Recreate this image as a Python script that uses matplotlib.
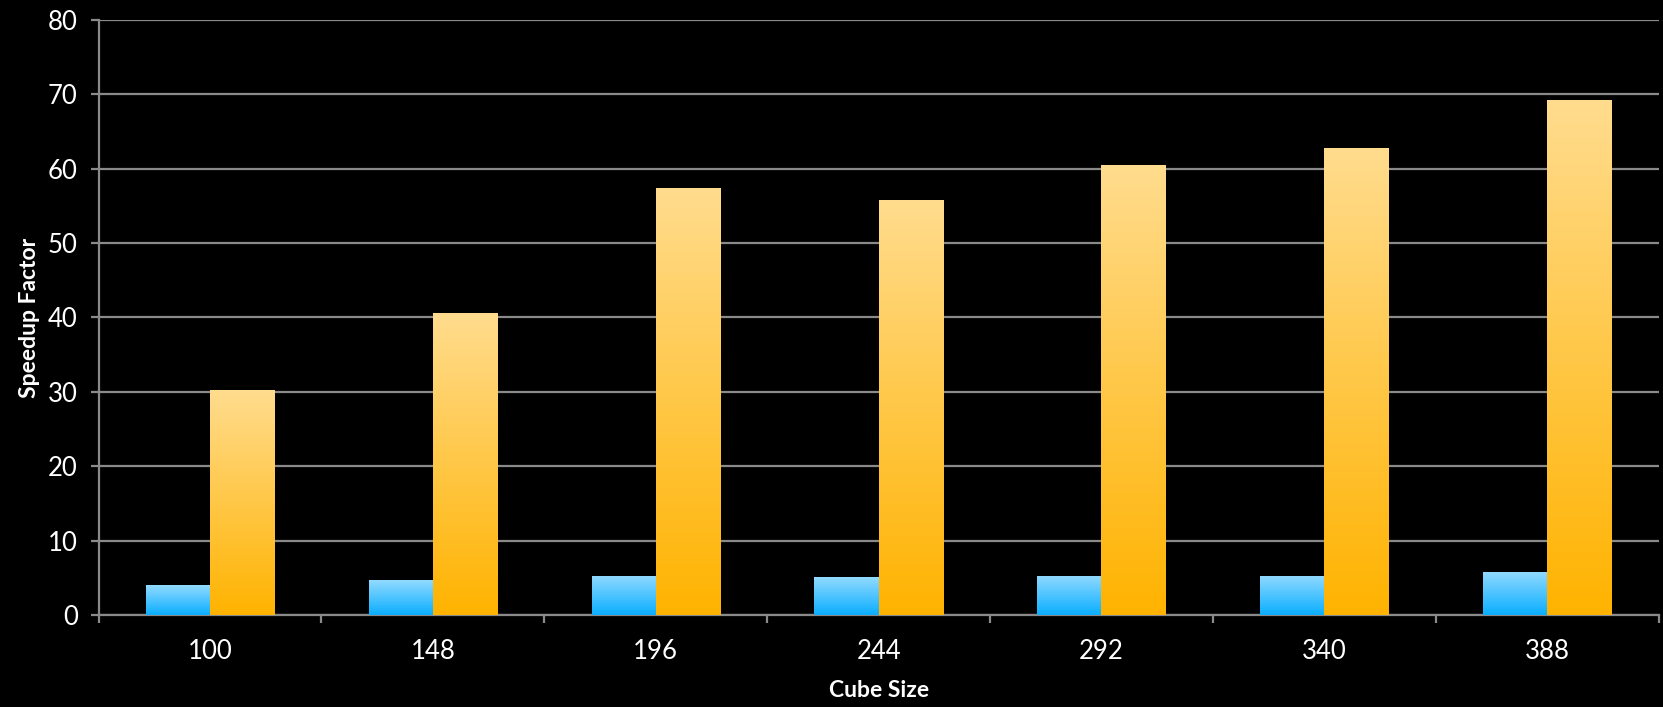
import numpy as np
import matplotlib.pyplot as plt
from matplotlib.colors import LinearSegmentedColormap

# data
cube_sizes = ["100", "148", "196", "244", "292", "340", "388"]
blue_values = [4.0, 4.7, 5.3, 5.1, 5.3, 5.3, 5.8]
orange_values = [30.2, 40.6, 57.4, 55.8, 60.5, 62.8, 69.2]

plt.rcParams["font.family"] = ["Lato", "DejaVu Sans"]

blue_cmap = LinearSegmentedColormap.from_list("blue", ["#0aaeff", "#92daff"])
orange_cmap = LinearSegmentedColormap.from_list("orange", ["#ffb300", "#ffdc8e"])

fig = plt.figure(figsize=(16.63, 7.07), dpi=100, facecolor="black")
ax = fig.add_axes([0.0593, 0.130, 0.938, 0.842])
ax.set_facecolor("black")

x = np.arange(len(cube_sizes))
width = 0.288

blue_bars = ax.bar(x - width / 2, blue_values, width, color="#0aaeff", zorder=3)
orange_bars = ax.bar(x + width / 2, orange_values, width, color="#ffb300", zorder=3)

# vertical gradient inside each bar
grad = np.linspace(0, 1, 256).reshape(-1, 1)
for bars, cmap in [(blue_bars, blue_cmap), (orange_bars, orange_cmap)]:
    for bar in bars:
        x0, h, w = bar.get_x(), bar.get_height(), bar.get_width()
        im = ax.imshow(grad, cmap=cmap, origin="lower", aspect="auto",
                       extent=(x0, x0 + w, 0, h), zorder=4)
        im.set_clip_path(bar)

ax.set_xlim(-0.5, len(cube_sizes) - 0.5)
ax.set_ylim(0, 80)
ax.set_yticks(range(0, 81, 10))
ax.set_xticks(x)
ax.set_xticklabels(cube_sizes)
ax.set_xticks(np.arange(-0.5, len(cube_sizes), 1), minor=True)

ax.yaxis.grid(True, color="#8a8a8a", linewidth=1.6, zorder=1)
ax.set_axisbelow(True)

for side in ["top", "right"]:
    ax.spines[side].set_visible(False)
for side in ["left", "bottom"]:
    ax.spines[side].set_color("#8a8a8a")
    ax.spines[side].set_linewidth(1.6)

ax.tick_params(axis="y", colors="#8a8a8a", labelcolor="white", labelsize=18.5,
               length=6, width=1.6, pad=9)
ax.tick_params(axis="x", which="major", length=0, labelcolor="white",
               labelsize=18.5, pad=17)
ax.tick_params(axis="x", which="minor", colors="#8a8a8a", length=6, width=1.6)

ax.set_xlabel("Cube Size", color="white", fontsize=16.5, fontweight="bold",
              labelpad=12)
ax.set_ylabel("Speedup Factor", color="white", fontsize=16.5, fontweight="bold",
              labelpad=6)

plt.savefig("out.png", dpi=100, facecolor="black")
